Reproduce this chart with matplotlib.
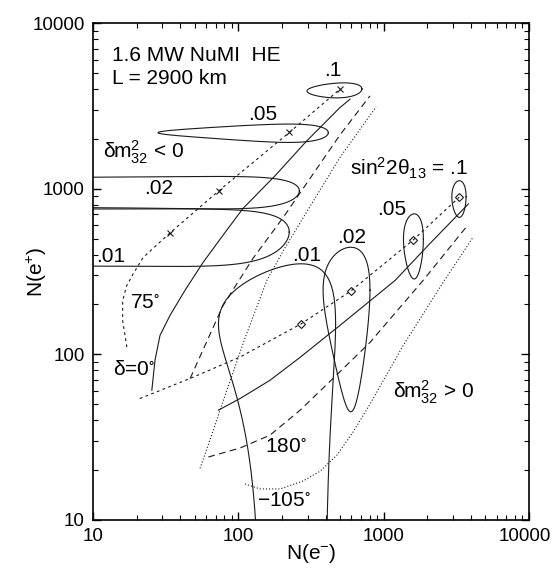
import numpy as np
import matplotlib
matplotlib.use("Agg")
import matplotlib.pyplot as plt
import matplotlib.transforms as mtransforms

plt.rcParams['font.family'] = ['Liberation Sans', 'DejaVu Sans']
plt.rcParams['mathtext.fontset'] = 'custom'
plt.rcParams['mathtext.rm'] = 'Liberation Sans'
plt.rcParams['mathtext.it'] = 'Liberation Sans'

# --- ellipses (linear-space centre and half widths), sin^2 2theta13 = .1 .05 .02 .01
inv_cx = [503, 222, 74, 34]
inv_ax = [206, 194, 189, 190]
inv_cy = [3942, 2178, 970, 547]
inv_ay = [410, 277, 215, 208]
inv_tilt = [0.14, 0.0, 0.0, 0.0]

nor_cx = [3318, 1622, 594, 270]
nor_ax = [373, 254, 211, 197]
nor_cy = [894, 495, 244, 152]
nor_ay = [223, 210, 199, 200]
nor_tilt = [0.0, 0.0, 0.0, 0.0]

# --- constant-delta trajectories, inverted hierarchy
inv_d0_x = [25.4, 26.7, 28.9, 33.9, 42.9, 57.1, 80.9, 107.6, 179, 296, 501, 587]
inv_d0_y = [60.7, 92.1, 130, 172, 243, 358, 543, 759, 1197, 1945, 3090, 3467]
inv_d180_x = [46.6, 59.0, 78.5, 126, 203, 501, 805]
inv_d180_y = [71.5, 113.3, 197, 379, 668, 2113, 3631]
inv_dm105_x = [54.5, 65.9, 78.9, 111, 157, 204, 311, 501, 887]
inv_dm105_y = [20.5, 33.0, 52.8, 125, 279, 423, 780, 1546, 3119]
inv_d75_x = [17.1, 16.0, 16.0, 17.0, 18.9, 22.1, 33.9, 73.6, 224, 501]
inv_d75_y = [110.6, 160, 211, 258, 306, 384, 541, 973, 2183, 3990]

# --- constant-delta trajectories, normal hierarchy
nor_d0_x = [72.8, 102.8, 165, 266, 501, 1197, 2084, 3829]
nor_d0_y = [46.0, 54.1, 69.7, 95.9, 149.7, 279, 467, 809]
nor_d180_x = [62.2, 102.8, 165, 266, 449, 805, 1866, 3690]
nor_d180_y = [24.0, 27.2, 32.5, 46.0, 71.6, 118, 279, 585]
nor_dm105_x = [111, 141, 194, 279, 365, 478, 615, 805, 1362, 2566, 4121]
nor_dm105_y = [16.5, 15.4, 15.4, 17.2, 19.7, 24.7, 33.9, 50.0, 113, 272, 509]
nor_d75_x = [21.0, 46.6, 102.8, 268, 594, 1600, 3304]
nor_d75_y = [54.1, 71.5, 96.4, 152, 241, 491, 887]

tick_vals = [10, 100, 1000, 10000]
tick_text = ['10', '100', '1000', '10000']

fig = plt.figure(figsize=(5.54, 5.75), dpi=100)
ax = fig.add_axes([93/554, 55/575, 436/554, 497/575])
ax.set_xscale('log')
ax.set_yscale('log')
ax.set_xlim(10, 10000)
ax.set_ylim(10, 10000)

lw = 0.8
col = '#1a1a1a'
t = np.linspace(0, 2*np.pi, 1441)
for cx, a, cy, b, ph in zip(inv_cx, inv_ax, inv_cy, inv_ay, inv_tilt):
    ax.plot(cx + a*np.cos(t), cy + b*np.sin(t + ph), color=col, lw=lw)
for cx, a, cy, b, ph in zip(nor_cx, nor_ax, nor_cy, nor_ay, nor_tilt):
    ax.plot(cx + a*np.cos(t), cy + b*np.sin(t + ph), color=col, lw=lw)

solid = '-'
dash = (0, (6, 4))
short = (0, (2.5, 3))
fine = (0, (1, 1.8))
ax.plot(inv_d0_x, inv_d0_y, color=col, lw=lw, ls=solid)
ax.plot(inv_d180_x, inv_d180_y, color=col, lw=lw, ls=dash)
ax.plot(inv_dm105_x, inv_dm105_y, color=col, lw=0.8, ls=fine)
ax.plot(inv_d75_x, inv_d75_y, color=col, lw=lw, ls=short)
ax.plot(nor_d0_x, nor_d0_y, color=col, lw=lw, ls=solid)
ax.plot(nor_d180_x, nor_d180_y, color=col, lw=lw, ls=dash)
ax.plot(nor_dm105_x, nor_dm105_y, color=col, lw=0.8, ls=fine)
ax.plot(nor_d75_x, nor_d75_y, color=col, lw=lw, ls=short)

# centre markers
ax.plot(inv_d75_x[-4:], inv_d75_y[-4:], ls='none', marker='x', ms=4.5, mew=0.8, color=col)
ax.plot(nor_d75_x[-4:], nor_d75_y[-4:], ls='none', marker='D', ms=4, mew=0.8,
        mfc='none', mec=col)

fs = 15
ax.tick_params(which='both', direction='in', top=True, right=True, labelsize=13.5, pad=6)
ax.tick_params(which='major', length=6, width=1)
ax.tick_params(which='minor', length=3.5, width=0.8)
ax.set_xticks(tick_vals)
ax.set_xticklabels(tick_text)
ax.set_yticks(tick_vals)
ax.set_yticklabels(tick_text)
# last x label sits against the right edge, nudge it in a little
last = ax.get_xticklabels()[-1]
last.set_transform(last.get_transform() +
                   mtransforms.ScaledTranslation(-3/72, 0, fig.dpi_scale_trans))
for s in ax.spines.values():
    s.set_linewidth(1.2)

ax.set_xlabel(r'N(e$\mathregular{^{-}}$)', fontsize=fs)
ax.set_ylabel(r'N(e$\mathregular{^{+}}$)', fontsize=fs)
ax.xaxis.set_label_coords(0.5, -0.044)
ax.yaxis.set_label_coords(-0.100, 0.5)

tr = ax.transAxes
ax.text(0.0436, 0.934, '1.6 MW NuMI  HE', transform=tr, fontsize=fs, va='center')
ax.text(0.0436, 0.889, 'L = 2900 km', transform=tr, fontsize=fs, va='center')
ax.text(0.550, 0.905, '.1', transform=tr, fontsize=fs, ha='center', va='center')
ax.text(0.390, 0.815, '.05', transform=tr, fontsize=fs, ha='center', va='center')
ax.text(0.023, 0.740, r'δm$\mathregular{^2_{32}}$ < 0', transform=tr, fontsize=fs, va='center')
ax.text(0.151, 0.668, '.02', transform=tr, fontsize=fs, ha='center', va='center')
ax.text(0.041, 0.531, '.01', transform=tr, fontsize=fs, ha='center', va='center')
ax.text(0.085, 0.437, '75$\mathregular{^{\\circ}}$', transform=tr, fontsize=fs, va='center')
ax.text(0.046, 0.302, 'δ=0$\mathregular{^{\\circ}}$', transform=tr, fontsize=fs, va='center')
ax.text(0.589, 0.708, r'sin$\mathregular{^2}$2θ$\mathregular{_{13}}$ = .1', transform=tr,
        fontsize=fs, va='center')
ax.text(0.686, 0.624, '.05', transform=tr, fontsize=fs, ha='center', va='center')
ax.text(0.594, 0.569, '.02', transform=tr, fontsize=fs, ha='center', va='center')
ax.text(0.491, 0.533, '.01', transform=tr, fontsize=fs, ha='center', va='center')
ax.text(0.688, 0.256, r'δm$\mathregular{^2_{32}}$ > 0', transform=tr, fontsize=fs, va='center')
ax.text(0.394, 0.147, '180$\mathregular{^{\\circ}}$', transform=tr, fontsize=fs, va='center')
ax.text(0.376, 0.040, '\u2212105$\mathregular{^{\\circ}}$', transform=tr, fontsize=fs, va='center')

fig.savefig('out.png', dpi=100)
